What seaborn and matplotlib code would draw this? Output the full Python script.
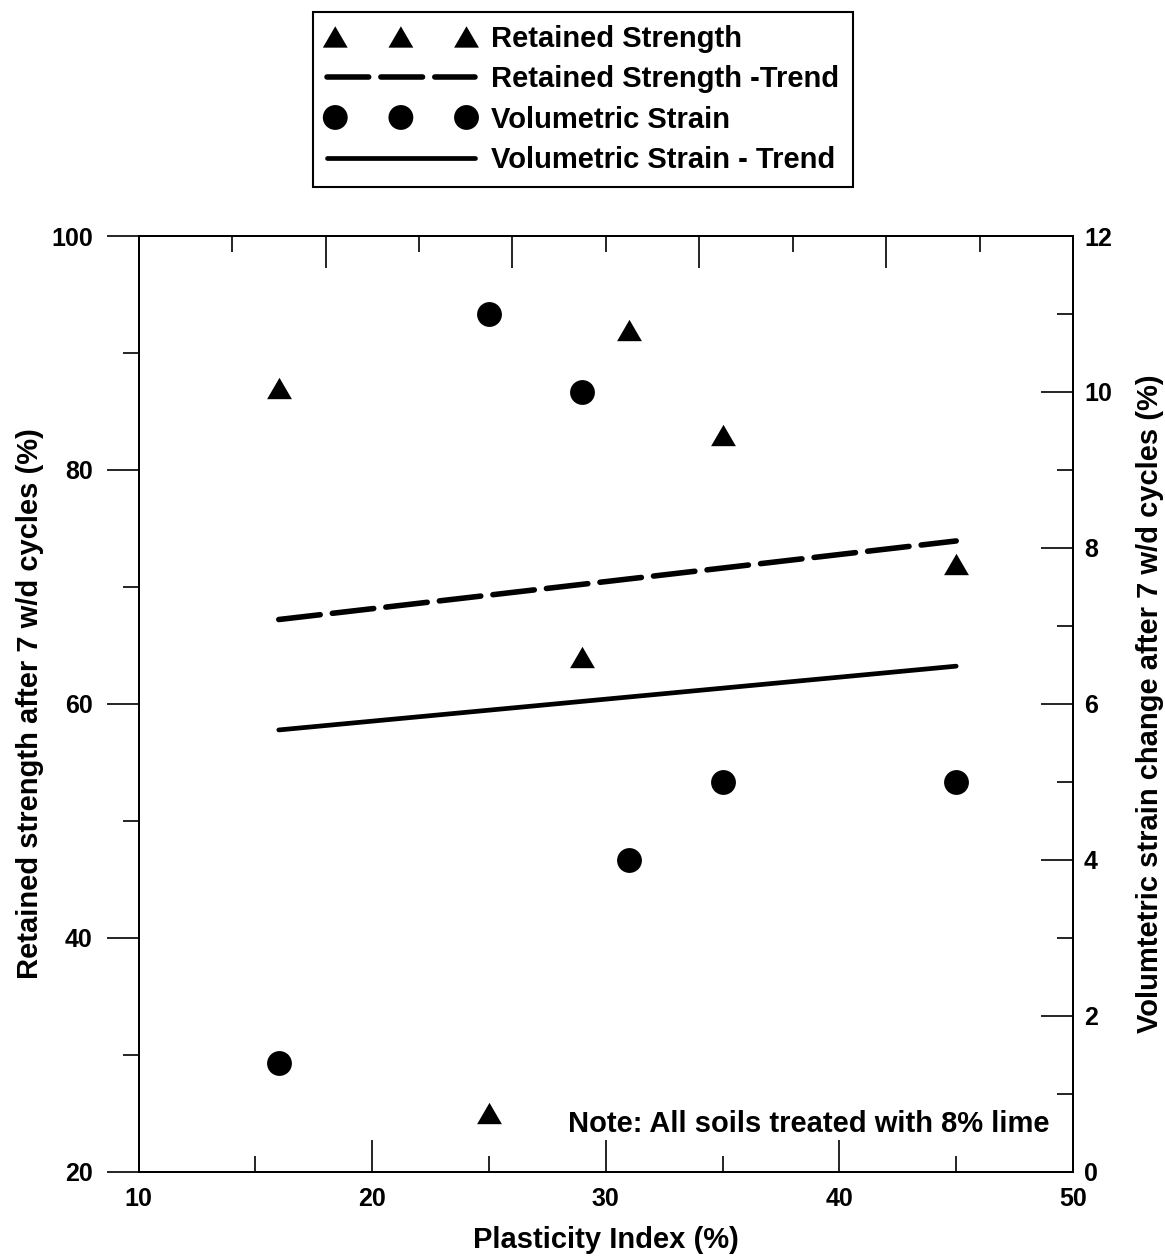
import matplotlib
matplotlib.use("Agg")
import matplotlib.pyplot as plt
import seaborn as sns
import pandas as pd
from matplotlib.ticker import FixedLocator, NullFormatter

# ---- data ----
plasticity_index = [16, 25, 29, 31, 35, 45]
retained_strength = [87, 25, 64, 92, 83, 72]
volumetric_strain = [1.4, 11.0, 10.0, 4.0, 5.0, 5.0]

x_ticks = [10, 20, 30, 40, 50]
x_minor = [15, 25, 35, 45]
top_ticks = [10, 18, 26, 34, 42, 50]
top_minor = [14, 22, 30, 38, 46]
left_ticks = [20, 40, 60, 80, 100]
left_minor = [30, 50, 70, 90]
right_ticks = [0, 2, 4, 6, 8, 10, 12]
right_minor = [1, 3, 5, 7, 9, 11]

labels = ["Retained Strength", "Retained Strength -Trend",
          "Volumetric Strain", "Volumetric Strain - Trend"]
x_label = "Plasticity Index (%)"
left_label = "Retained strength after 7 w/d cycles (%)"
right_label = "Volumtetric strain change after 7 w/d cycles (%)"
note = "Note: All soils treated with 8% lime"

df = pd.DataFrame({"PI": plasticity_index, "RS": retained_strength,
                   "VS": volumetric_strain})

sns.set_theme(style="ticks")
plt.rcParams["font.family"] = ["Liberation Sans", "DejaVu Sans"]
plt.rcParams["font.weight"] = "bold"
plt.rcParams["axes.linewidth"] = 1.4
plt.rcParams["axes.edgecolor"] = "black"
plt.rcParams["text.color"] = "black"
plt.rcParams["axes.labelcolor"] = "black"
plt.rcParams["xtick.color"] = "black"
plt.rcParams["ytick.color"] = "black"
plt.rcParams["xtick.labelcolor"] = "black"
plt.rcParams["ytick.labelcolor"] = "black"

fig = plt.figure(figsize=(11.65, 12.56), dpi=100)
ax = fig.add_axes([0.119, 0.0669, 0.802, 0.7452])
ax2 = ax.twinx()

tri = [(-1, -0.86), (1, -0.86), (0, 0.86)]
sns.scatterplot(data=df, x="PI", y="RS", ax=ax, marker=tri, s=320,
                color="black", edgecolor="black", linewidth=0,
                label=labels[0], legend=False)
sns.regplot(data=df, x="PI", y="RS", ax=ax, scatter=False, ci=None,
            color="black", truncate=True, label=labels[1],
            line_kws=dict(lw=4.0, ls=(0, (7.5, 2.2)), dash_capstyle="round"))
sns.scatterplot(data=df, x="PI", y="VS", ax=ax2, marker="o", s=320,
                color="black", edgecolor="black", linewidth=0,
                label=labels[2], legend=False)
sns.regplot(data=df, x="PI", y="VS", ax=ax2, scatter=False, ci=None,
            color="black", truncate=True, label=labels[3],
            line_kws=dict(lw=3.4, ls="-", solid_capstyle="round"))

ax.set_xlim(10, 50)
ax.set_ylim(20, 100)
ax2.set_ylim(0, 12)

tick_fs = 18
ax.set_xticks(x_ticks)
ax.xaxis.set_minor_locator(FixedLocator(x_minor))
ax.set_yticks(left_ticks)
ax.yaxis.set_minor_locator(FixedLocator(left_minor))
ax2.set_yticks(right_ticks)
ax2.yaxis.set_minor_locator(FixedLocator(right_minor))

ax.tick_params(axis="x", which="both", direction="in", bottom=True, top=False,
               labelsize=tick_fs, pad=11, width=1.2, color="black")
ax.tick_params(axis="x", which="major", length=23)
ax.tick_params(axis="x", which="minor", length=11.5)
ax.tick_params(axis="y", which="both", direction="out", left=True, right=False,
               labelsize=tick_fs, pad=10, width=1.2, color="black")
ax.tick_params(axis="y", which="major", length=23)
ax.tick_params(axis="y", which="minor", length=11.5)
ax2.tick_params(axis="y", which="both", direction="in", right=True, left=False,
                labelsize=tick_fs, pad=8, width=1.2, color="black")
ax2.tick_params(axis="y", which="major", length=23)
ax2.tick_params(axis="y", which="minor", length=11.5)

for a in (ax, ax2):
    for lab in a.get_xticklabels() + a.get_yticklabels():
        lab.set_fontweight("bold")

sec = ax.secondary_xaxis("top")
sec.set_xticks(top_ticks)
sec.xaxis.set_minor_locator(FixedLocator(top_minor))
sec.xaxis.set_major_formatter(NullFormatter())
sec.tick_params(axis="x", which="both", direction="in", width=1.2, color="black")
sec.tick_params(axis="x", which="major", length=23)
sec.tick_params(axis="x", which="minor", length=11.5)

lab_fs = 21
ax.set_xlabel(x_label, fontsize=lab_fs, fontweight="bold", color="black")
ax.set_ylabel(left_label, fontsize=lab_fs, fontweight="bold", color="black")
ax2.set_ylabel(right_label, fontsize=lab_fs, fontweight="bold", color="black")
ax.xaxis.set_label_coords(0.5, -0.058)
ax.yaxis.set_label_coords(-0.101, 0.5)
ax2.yaxis.set_label_coords(1.067, 0.5)

ax.text(0.9754, 0.0427, note, transform=ax.transAxes, ha="right",
        va="baseline", fontsize=lab_fs, fontweight="bold", color="black")

handles = [ax.collections[0], ax.lines[0], ax2.collections[0], ax2.lines[0]]
leg = fig.legend(handles, labels, loc="upper center",
                 bbox_to_anchor=(0.5004, 0.9904), frameon=True, fancybox=False,
                 edgecolor="black", framealpha=1,
                 prop={"size": lab_fs, "weight": "bold"},
                 handlelength=5.1, handletextpad=0.55, borderpad=0.45,
                 labelspacing=0.42, borderaxespad=0, scatterpoints=3,
                 scatteryoffsets=[0.5])
leg.get_frame().set_linewidth(1.5)
for t in leg.get_texts():
    t.set_color("black")

fig.savefig("out.png", dpi=100)
